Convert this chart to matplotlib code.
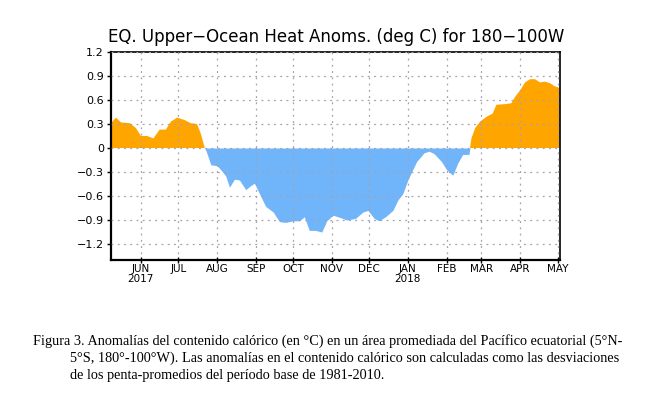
import matplotlib
matplotlib.use("Agg")
import matplotlib.pyplot as plt
import matplotlib.dates as mdates
import numpy as np
import pandas as pd

# pentad-ish readings of the heat content anomaly (deg C), 180-100W
dates = [
    "2017-05-08", "2017-05-12", "2017-05-16", "2017-05-23", "2017-05-28",
    "2017-06-01", "2017-06-06", "2017-06-11", "2017-06-16", "2017-06-21",
    "2017-06-25", "2017-06-30", "2017-07-06", "2017-07-11", "2017-07-16",
    "2017-07-19", "2017-07-22", "2017-07-24", "2017-07-27", "2017-08-01",
    "2017-08-05", "2017-08-08", "2017-08-11", "2017-08-15", "2017-08-19",
    "2017-08-24", "2017-08-28", "2017-08-31", "2017-09-04", "2017-09-09",
    "2017-09-15", "2017-09-20", "2017-09-25", "2017-10-01", "2017-10-06",
    "2017-10-10", "2017-10-14", "2017-10-19", "2017-10-24", "2017-10-28",
    "2017-11-02", "2017-11-08", "2017-11-13", "2017-11-20", "2017-11-26",
    "2017-11-30", "2017-12-05", "2017-12-09", "2017-12-14", "2017-12-20",
    "2017-12-24", "2017-12-28", "2018-01-01", "2018-01-08", "2018-01-14",
    "2018-01-18", "2018-01-22", "2018-01-28", "2018-02-01", "2018-02-06",
    "2018-02-10", "2018-02-14", "2018-02-19", "2018-02-21", "2018-02-24",
    "2018-02-28", "2018-03-05", "2018-03-10", "2018-03-13", "2018-03-21",
    "2018-03-25", "2018-03-28", "2018-04-01", "2018-04-05", "2018-04-09",
    "2018-04-13", "2018-04-17", "2018-04-21", "2018-04-25", "2018-04-29",
    "2018-05-03",
]
anoms = [
    0.31, 0.38, 0.32, 0.31, 0.25,
    0.15, 0.15, 0.12, 0.23, 0.23,
    0.33, 0.38, 0.35, 0.31, 0.30,
    0.18, 0.01, -0.07, -0.21, -0.22,
    -0.29, -0.35, -0.49, -0.39, -0.40,
    -0.52, -0.47, -0.44, -0.57, -0.73,
    -0.80, -0.92, -0.93, -0.91, -0.91,
    -0.86, -1.03, -1.03, -1.05, -0.91,
    -0.84, -0.87, -0.90, -0.88, -0.80,
    -0.78, -0.88, -0.91, -0.86, -0.78,
    -0.65, -0.57, -0.40, -0.17, -0.06,
    -0.04, -0.07, -0.17, -0.27, -0.34,
    -0.19, -0.08, -0.08, 0.12, 0.25,
    0.33, 0.39, 0.43, 0.54, 0.55,
    0.56, 0.64, 0.72, 0.82, 0.86,
    0.86, 0.82, 0.83, 0.81, 0.77,
    0.75,
]

yticks = [1.2, 0.9, 0.6, 0.3, 0, -0.3, -0.6, -0.9, -1.2]
ytick_labels = ["1.2", "0.9", "0.6", "0.3", "0", "\u22120.3", "\u22120.6", "\u22120.9", "\u22121.2"]
month_starts = ["2017-06-01", "2017-07-01", "2017-08-01", "2017-09-01", "2017-10-01",
                "2017-11-01", "2017-12-01", "2018-01-01", "2018-02-01", "2018-03-01",
                "2018-04-01", "2018-05-01"]
month_labels = ["JUN\n2017", "JUL", "AUG", "SEP", "OCT", "NOV", "DEC",
                "JAN\n2018", "FEB", "MAR", "APR", "MAY"]

title = "EQ. Upper\u2212Ocean Heat Anoms. (deg C) for 180\u2212100W"
caption = ("Figura 3. Anomalías del contenido calórico (en °C) en un área promediada del Pacífico ecuatorial (5°N-",
           "5°S, 180°-100°W). Las anomalías en el contenido calórico son calculadas como las desviaciones",
           "de los penta-promedios del período base de 1981-2010.")


def main():
    x = mdates.date2num(pd.to_datetime(dates))
    y = np.array(anoms)

    fig = plt.figure(figsize=(6.54, 3.97), dpi=100)
    ax = fig.add_axes([111 / 654, 1 - 260 / 397, 449 / 654, 208 / 397])

    ax.fill_between(x, 0, y, where=y >= 0, interpolate=True, color="#ffa500", linewidth=0)
    ax.fill_between(x, 0, y, where=y <= 0, interpolate=True, color="#70b4fa", linewidth=0)

    ax.set_xlim(mdates.date2num(pd.Timestamp("2017-05-08")), mdates.date2num(pd.Timestamp("2018-05-03")))
    ax.set_ylim(-1.4, 1.2)

    ax.set_yticks(yticks)
    ax.set_yticklabels(ytick_labels, fontsize=8)
    xt = mdates.date2num(pd.to_datetime(month_starts))
    ax.set_xticks(xt)
    ax.set_xticklabels(month_labels, fontsize=7.5, linespacing=0.95)

    ax.grid(True, color="#a8a0ac", linestyle=(0, (1.5, 3.5)), linewidth=0.9)
    ax.set_axisbelow(False)

    ax.tick_params(axis="y", direction="out", length=3, width=1, pad=2)
    ax.tick_params(axis="x", direction="inout", length=4, width=1, pad=1)

    for side in ["left", "bottom"]:
        ax.spines[side].set_linewidth(1.6)
    ax.spines["right"].set_linewidth(1.2)
    ax.spines["top"].set_linewidth(1.2)
    ax.spines["top"].set_linestyle((0, (3, 1)))

    fig.text(336 / 654, 1 - 37 / 397, title, ha="center", va="center", fontsize=12.0,
             family="DejaVu Sans")

    cap_font = dict(family="Liberation Serif", fontsize=10.3, va="center", ha="left")
    fig.text(33 / 654, 1 - 341 / 397, caption[0], **cap_font)
    fig.text(70 / 654, 1 - 358 / 397, caption[1], **cap_font)
    fig.text(70 / 654, 1 - 375 / 397, caption[2], **cap_font)

    fig.savefig("out.png", dpi=100)
    plt.close(fig)


if __name__ == "__main__":
    main()
